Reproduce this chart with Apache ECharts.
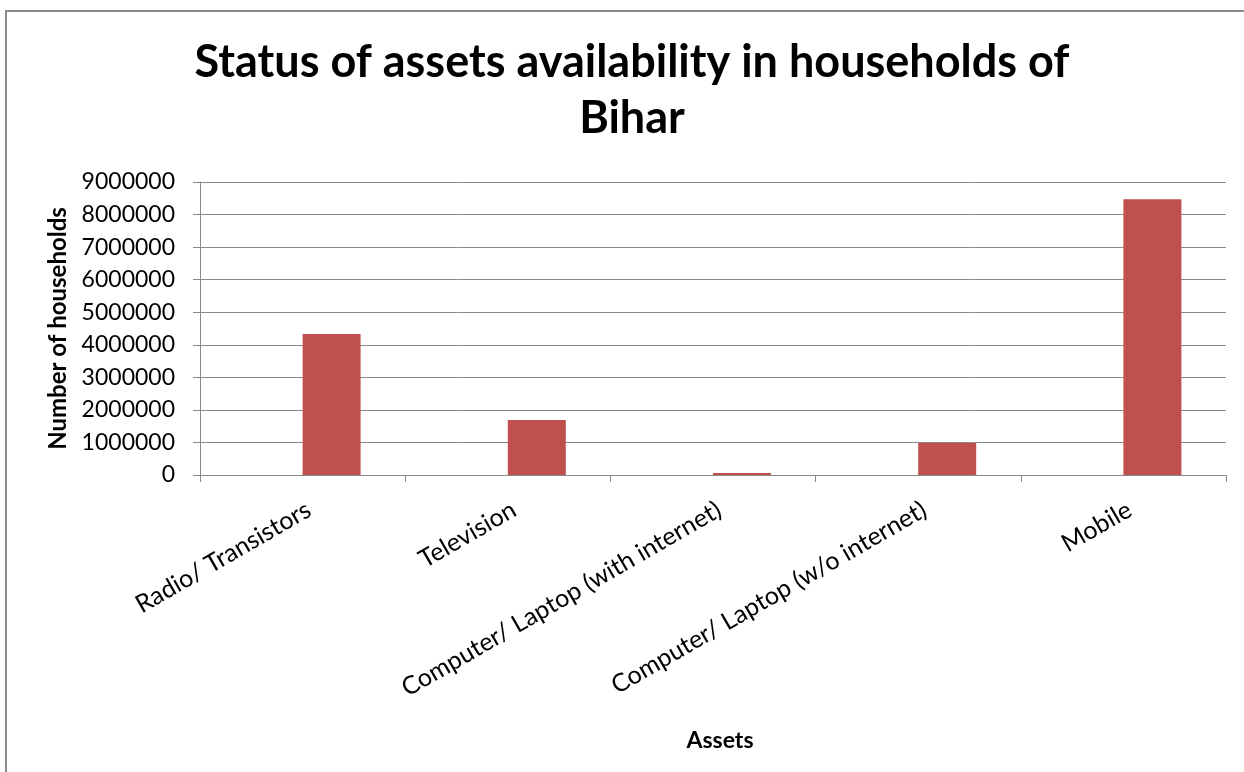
<!DOCTYPE html>
<html>
<head>
<meta charset="utf-8">
<script src="https://cdn.jsdelivr.net/npm/echarts@6/dist/echarts.min.js"></script>
<style>
html,body{margin:0;padding:0;background:#fff;}
#chart{width:1244px;height:772px;}
</style>
</head>
<body>
<div id="chart"></div>
<script>
var categories = ['Radio/ Transistors', 'Television', 'Computer/ Laptop (with internet)', 'Computer/ Laptop (w/o internet)', 'Mobile'];
var emptySeries = [null, null, null, null, null];
var households = [4330000, 1690000, 60000, 980000, 8470000];
var yTicks = [0, 1000000, 2000000, 3000000, 4000000, 5000000, 6000000, 7000000, 8000000, 9000000];

var FONT = 'Lato';
var chart = echarts.init(document.getElementById('chart'));
chart.setOption({
  backgroundColor: '#ffffff',
  animation: false,
  graphic: [{
    type: 'rect',
    shape: {x: 6, y: 11, width: 1300, height: 800},
    style: {fill: 'none', stroke: '#8c8c8c', lineWidth: 2},
    silent: true
  }],
  title: {
    text: 'Status of assets availability in households of\nBihar',
    left: 627,
    top: 29,
    textAlign: 'center',
    padding: 5,
    textStyle: {fontFamily: FONT, fontWeight: 'bold', fontSize: 45, color: '#000', lineHeight: 56}
  },
  grid: {left: 200, right: 18, top: 182, bottom: 297, containLabel: false},
  xAxis: {
    type: 'category',
    data: categories,
    name: 'Assets',
    nameLocation: 'middle',
    nameGap: 254,
    nameTextStyle: {fontFamily: FONT, fontWeight: 'bold', fontSize: 23, color: '#000', padding: [0, 0, 0, 14]},
    axisLine: {lineStyle: {color: '#898989', width: 1}},
    axisTick: {show: true, length: 7, lineStyle: {color: '#898989'}},
    axisLabel: {rotate: 30, interval: 0, margin: 22, align: 'right', verticalAlign: 'top',
      fontFamily: FONT, fontSize: 25, color: '#000'}
  },
  yAxis: {
    type: 'value',
    min: 0,
    max: 9000000,
    interval: 1000000,
    name: 'Number of households',
    nameLocation: 'middle',
    nameGap: 128,
    nameRotate: 90,
    nameTextStyle: {fontFamily: FONT, fontWeight: 'bold', fontSize: 24, color: '#000'},
    axisLine: {show: true, lineStyle: {color: '#898989', width: 1}},
    axisTick: {show: true, length: 7, lineStyle: {color: '#898989'}},
    splitLine: {lineStyle: {color: '#898989', width: 1}},
    axisLabel: {
      margin: 25, fontFamily: FONT, fontSize: 23, color: '#000',
      formatter: function (v) { return yTicks.indexOf(v) >= 0 ? String(v) : ''; }
    }
  },
  series: [
    {type: 'bar', name: 'Series1', data: emptySeries, barWidth: 58, barGap: '0%', itemStyle: {color: '#4F81BD'}},
    {type: 'bar', name: 'Households', data: households, barWidth: 58, barGap: '0%', itemStyle: {color: '#C0504D'}}
  ]
});
</script>
</body>
</html>
